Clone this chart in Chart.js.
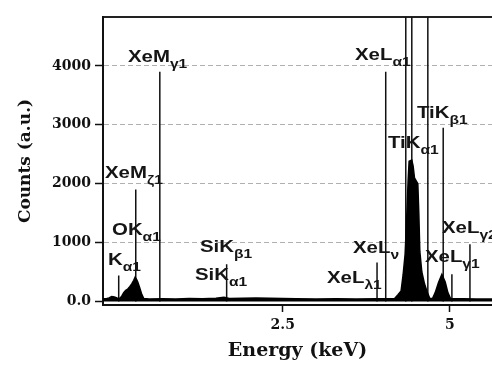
<!DOCTYPE html>
<html lang="en">

<head>
    <meta charset="UTF-8">
    <title>EDS Spectrum</title>
    <style>
        html, body {
            margin: 0;
            padding: 0;
            background: #ffffff;
        }

        #wrap {
            width: 492px;
            height: 367px;
        }
    </style>
</head>

<body>
    <div id="wrap"><canvas id="edsChart" width="492" height="367"></canvas></div>

    <script src="https://cdn.jsdelivr.net/npm/chart.js"></script>
    <script>
        // Spectrum (energy in keV, counts)
        const spectrumEnergy = [-0.19, -0.14, -0.10, -0.06, -0.02, 0.02, 0.06, 0.09, 0.12, 0.15, 0.18, 0.21, 0.24, 0.27, 0.29, 0.31, 0.33, 0.36, 0.39, 0.42,
            0.5, 0.7, 0.9, 1.1, 1.3, 1.5, 1.62, 1.7, 1.9, 2.1, 2.3, 2.5, 2.7, 3.0, 3.3, 3.6, 3.9, 4.1,
            4.17, 4.22, 4.27, 4.30, 4.33, 4.355, 4.375, 4.39, 4.43, 4.45, 4.47, 4.52, 4.535, 4.55, 4.58, 4.62, 4.66, 4.70,
            4.74, 4.78, 4.83, 4.88, 4.93, 4.97, 5.01, 5.2, 5.4, 5.63];
        const spectrumCounts = [45, 45, 60, 85, 75, 60, 50, 90, 150, 190, 210, 250, 300, 360, 410, 380, 330, 230, 120, 50,
            40, 45, 40, 50, 45, 55, 70, 50, 55, 60, 55, 50, 45, 40, 45, 40, 45, 45,
            45, 110, 180, 450, 800, 1450, 2050, 2380, 2400, 2300, 2100, 2000, 1500, 850, 500, 300, 160, 50,
            50, 150, 320, 460, 330, 150, 50, 45, 40, 40];

        // Peak marker lines (energy, height of line in counts)
        const markerEnergy = [0.045, 0.30, 0.66, 1.66, 3.91, 4.04, 4.34, 4.43, 4.67, 4.90, 5.03, 5.30];
        const markerTop = [440, 1900, 3900, 630, 660, 3900, 6000, 6000, 6000, 2950, 460, 970];

        // Peak labels: main text, subscript, anchor (energy, counts)
        const labelMain = ['K', 'OK', 'XeM', 'XeM', 'SiK', 'SiK', 'XeL', 'XeL', 'XeL', 'TiK', 'TiK', 'XeL', 'XeL'];
        const labelSub = ['α1', 'α1', 'ζ1', 'γ1', 'β1', 'α1', 'λ1', 'ν', 'α1', 'α1', 'β1', 'γ2', 'γ1'];
        const labelEnergy = [-0.115, -0.055, -0.16, 0.184, 1.261, 1.186, 3.161, 3.55, 3.58, 4.074, 4.508, 4.882, 4.627];
        const labelCounts = [619, 1128, 2096, 4066, 840, 364, 314, 823, 4100, 2606, 3115, 1162, 670];

        const yTicks = [0, 1000, 2000, 3000, 4000];
        const xTicks = [2.5, 5];

        const serif = '"DejaVu Serif", "Liberation Serif", serif';
        const sans = '"Liberation Sans", Arial, sans-serif';

        // build marker line points, broken by gaps
        const markerPoints = [];
        markerEnergy.forEach((e, i) => {
            markerPoints.push({ x: e, y: 0 }, { x: e, y: markerTop[i] }, { x: e, y: null });
        });

        // draws the peak labels with subscripts (the scan is a bit wide, so stretch x)
        const peakLabels = {
            id: 'peakLabels',
            afterDatasetsDraw(chart) {
                const ctx = chart.ctx;
                const xs = chart.scales.x;
                const ys = chart.scales.y;
                labelMain.forEach((txt, i) => {
                    const px = xs.getPixelForValue(labelEnergy[i]);
                    const py = ys.getPixelForValue(labelCounts[i]);
                    ctx.save();
                    ctx.translate(px, py);
                    ctx.scale(1.2, 1);
                    ctx.fillStyle = '#151515';
                    ctx.textBaseline = 'alphabetic';
                    ctx.textAlign = 'left';
                    ctx.font = 'bold 17px ' + sans;
                    ctx.fillText(txt, 0, 0);
                    const w = ctx.measureText(txt).width;
                    ctx.font = 'bold 13px ' + sans;
                    ctx.fillText(labelSub[i], w, 6);
                    ctx.restore();
                });
            }
        };

        const ctx = document.getElementById('edsChart').getContext('2d');
        new Chart(ctx, {
            type: 'line',
            data: {
                datasets: [{
                    label: 'Spectrum',
                    data: spectrumEnergy.map((e, i) => ({ x: e, y: spectrumCounts[i] })),
                    borderColor: '#000',
                    backgroundColor: '#000',
                    borderWidth: 1.5,
                    pointRadius: 0,
                    tension: 0,
                    fill: 'origin'
                }, {
                    label: 'Lines',
                    data: markerPoints,
                    borderColor: '#111',
                    borderWidth: 1.5,
                    pointRadius: 0,
                    spanGaps: false,
                    fill: false
                }]
            },
            options: {
                responsive: false,
                animation: false,
                layout: { padding: { top: 17, right: 0, left: 0, bottom: 0 } },
                plugins: {
                    legend: { display: false },
                    tooltip: { enabled: false }
                },
                scales: {
                    x: {
                        type: 'linear',
                        min: -0.19,
                        max: 5.63,
                        afterBuildTicks: axis => { axis.ticks = xTicks.map(v => ({ value: v })); },
                        afterFit: s => { s.height = 62; },
                        ticks: {
                            color: '#111',
                            font: { family: serif, size: 14, weight: 'bold' },
                            padding: 5,
                            maxRotation: 0,
                            callback: v => String(v)
                        },
                        grid: {
                            drawOnChartArea: false,
                            drawTicks: true,
                            tickLength: 7,
                            tickColor: '#111',
                            tickWidth: 1.5
                        },
                        border: { color: '#111', width: 2 },
                        title: {
                            display: true,
                            text: 'Energy (keV)',
                            color: '#111',
                            font: { family: serif, size: 19, weight: 'bold' },
                            padding: { top: 0, bottom: 5 }
                        }
                    },
                    x2: {
                        type: 'linear',
                        position: 'top',
                        min: -0.19,
                        max: 5.63,
                        afterFit: s => { s.height = 0; },
                        ticks: { display: false },
                        grid: { display: false },
                        border: { display: true, color: '#222', width: 2 }
                    },
                    y: {
                        min: -60,
                        max: 4830,
                        afterBuildTicks: axis => { axis.ticks = yTicks.map(v => ({ value: v })); },
                        afterFit: s => { s.width = 103; },
                        ticks: {
                            color: '#111',
                            font: { family: serif, size: 14, weight: 'bold' },
                            padding: 4,
                            callback: v => (v === 0 ? '0.0' : String(v))
                        },
                        grid: {
                            color: c => (c.tick && c.tick.value === 0 ? 'rgba(0,0,0,0)' : '#b0b0b0'),
                            tickColor: '#111',
                            tickLength: 8,
                            tickWidth: 1.5,
                            tickBorderDash: [],
                            lineWidth: 1
                        },
                        border: { color: '#111', width: 2, dash: [5, 3] },
                        title: {
                            display: true,
                            text: 'Counts (a.u.)',
                            color: '#111',
                            font: { family: serif, size: 17, weight: 'bold' },
                            padding: { top: 15, bottom: 0 }
                        }
                    }
                }
            },
            plugins: [peakLabels]
        });
    </script>
</body>

</html>
